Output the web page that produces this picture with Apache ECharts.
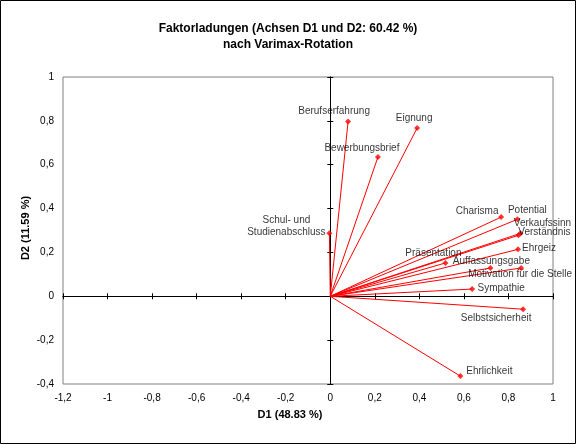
<!DOCTYPE html>
<html><head><meta charset="utf-8">
<script src="https://cdn.jsdelivr.net/npm/echarts@6/dist/echarts.min.js"></script>
<style>html,body{margin:0;padding:0;background:#fff}#c{width:576px;height:444px}</style>
</head><body><div id="c"></div>
<script>
// ---- data ----
var variables = ['Berufserfahrung','Eignung','Bewerbungsbrief','Schul- und\nStudienabschluss','Charisma','Potential','Verkaufssinn','Verständnis','Ehrgeiz','Präsentation','Auffassungsgabe','Motivation für die Stelle','Sympathie','Selbstsicherheit','Ehrlichkeit'];
var d1 = [0.080,0.390,0.214,-0.004,0.767,0.840,0.854,0.845,0.843,0.517,0.719,0.857,0.637,0.866,0.584];
var d2 = [0.797,0.767,0.635,0.288,0.361,0.351,0.287,0.278,0.214,0.152,0.129,0.129,0.033,-0.059,-0.364];
var xTicks = {min:-1.2, max:1, interval:0.2};
var yTicks = {min:-0.4, max:1, interval:0.2};
var titleText = 'Faktorladungen (Achsen D1 und D2: 60.42 %)\nnach Varimax-Rotation';
var xName = 'D1 (48.83 %)', yName = 'D2 (11.59 %)';
// ---- style: label offsets (px) ----
var labelOffsets = [[-14,-10],[-3,-10],[-16,-9],[-43,-7],[-24,-6],[10,-9],[22,-10],[26,-3],[21,-1],[-12,-10],[1,-7],[-1,6],[29,-1],[-27,9],[29,-5]];

var FONT = 'Liberation Sans, Arial, sans-serif';
var gridPos = {left:63, top:77, right:23, bottom:60};
function fmt(v){ return String(Math.round(v*10)/10).replace('.',','); }

var grids = [0,1,2].map(function(i){
  return Object.assign({show:i===0, borderColor:'#808080', borderWidth:1, backgroundColor:'#fff', containLabel:false}, gridPos);
});
var xAxes = [], yAxes = [];
[0,1,2].forEach(function(i){
  xAxes.push({type:'value', gridIndex:i, min:xTicks.min, max:xTicks.max, interval:xTicks.interval, position:'bottom',
    splitLine:{show:false},
    axisLine:{show:i>0, onZero:true, lineStyle:{color:'#000', width:1}},
    axisTick:{show:i>0, inside:i===1, length:3, lineStyle:{color:'#000'}},
    axisLabel:{show:i===0, formatter:fmt, color:'#000', fontFamily:FONT, fontSize:10, margin:9}
  });
  yAxes.push({type:'value', gridIndex:i, min:yTicks.min, max:yTicks.max, interval:yTicks.interval, position:'left',
    splitLine:{show:false},
    axisLine:{show:i>0, onZero:true, lineStyle:{color:'#000', width:1}},
    axisTick:{show:i>0, inside:i===1, length:3, lineStyle:{color:'#000'}},
    axisLabel:{show:i===0, formatter:fmt, color:'#000', fontFamily:FONT, fontSize:10, margin:9}
  });
});

var series = [];
variables.forEach(function(n,i){
  series.push({type:'line', xAxisIndex:0, yAxisIndex:0, data:[[0,0],[d1[i],d2[i]]], showSymbol:false, silent:true,
    lineStyle:{color:'#ff0000', width:1}, z:10});
});
series.push({type:'scatter', xAxisIndex:0, yAxisIndex:0, symbol:'diamond', symbolSize:6, z:11,
  itemStyle:{color:'#ff0000'},
  data: variables.map(function(n,i){
    return {name:n, value:[d1[i],d2[i]], label:{offset:labelOffsets[i]}};
  }),
  label:{show:true, position:'inside', formatter:function(p){return p.name;}, color:'#000', fontFamily:FONT, fontSize:10, align:'center', verticalAlign:'middle', lineHeight:12}
});

var chart = echarts.init(document.getElementById('c'), null, {renderer:'canvas'});
chart.setOption({
  animation:false,
  backgroundColor:'#fff',
  title:{text:titleText, left:'center', top:16, textStyle:{fontFamily:FONT, fontSize:12, fontWeight:'bold', color:'#000', lineHeight:16}},
  grid:grids, xAxis:xAxes, yAxis:yAxes, series:series,
  graphic:[
    {type:'rect', shape:{x:0.5,y:0.5,width:575,height:443}, style:{fill:null, stroke:'#000', lineWidth:1}, silent:true, z:100},
    {type:'text', x:290, y:415, style:{text:xName, fontFamily:FONT, fontSize:11, fontWeight:'bold', fill:'#000', textAlign:'center', textVerticalAlign:'middle'}},
    {type:'text', x:26, y:228, rotation:Math.PI/2, style:{text:yName, fontFamily:FONT, fontSize:11, fontWeight:'bold', fill:'#000', textAlign:'center', textVerticalAlign:'middle'}}
  ]
});
</script></body></html>
